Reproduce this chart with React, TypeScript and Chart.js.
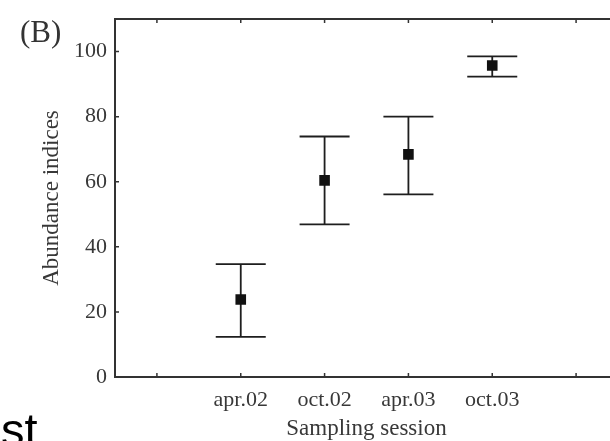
import React, { useEffect, useRef } from "react";
import { Chart, registerables } from "chart.js";

Chart.register(...registerables);

const categories = ["", "apr.02", "oct.02", "apr.03", "oct.03", ""];
const means = [null, 23.8, 60.4, 68.4, 95.7, null];
const lower = [null, 12.3, 46.9, 56.1, 92.3, null];
const upper = [null, 34.7, 73.9, 80.0, 98.5, null];
const yTicks = [0, 20, 40, 60, 80, 100];

const SERIF = "'Liberation Serif', 'DejaVu Serif', serif";

const framePlugin = {
  id: "frameAndBars",
  beforeDatasetsDraw(chart: any) {
    const { ctx, scales } = chart;
    const x = scales.x;
    const y = scales.y;
    ctx.save();
    ctx.strokeStyle = "#1e1e1e";
    ctx.lineWidth = 1.8;
    const half = 25;
    categories.forEach((_, i) => {
      const lo = lower[i];
      const hi = upper[i];
      if (lo == null || hi == null) return;
      const px = x.getPixelForValue(i);
      const yl = y.getPixelForValue(lo);
      const yu = y.getPixelForValue(hi);
      ctx.beginPath();
      ctx.moveTo(px, yl);
      ctx.lineTo(px, yu);
      ctx.moveTo(px - half, yl);
      ctx.lineTo(px + half, yl);
      ctx.moveTo(px - half, yu);
      ctx.lineTo(px + half, yu);
      ctx.stroke();
    });
    ctx.restore();
  },
  afterDraw(chart: any) {
    const { ctx, chartArea, scales } = chart;
    const x = scales.x;
    const y = scales.y;
    ctx.save();
    ctx.strokeStyle = "#333";
    ctx.lineWidth = 2;
    ctx.beginPath();
    ctx.moveTo(chartArea.left - 1, chartArea.top);
    ctx.lineTo(chartArea.right, chartArea.top);
    ctx.stroke();
    ctx.lineWidth = 1.5;
    ctx.beginPath();
    x.ticks.forEach((_: any, i: number) => {
      const px = x.getPixelForTick(i);
      ctx.moveTo(px, chartArea.bottom);
      ctx.lineTo(px, chartArea.bottom - 4);
      ctx.moveTo(px, chartArea.top);
      ctx.lineTo(px, chartArea.top + 4);
    });
    y.ticks.forEach((_: any, i: number) => {
      const py = y.getPixelForTick(i);
      ctx.moveTo(chartArea.left, py);
      ctx.lineTo(chartArea.left + 4, py);
    });
    ctx.stroke();
    ctx.restore();
  },
};

export default function App() {
  const ref = useRef<HTMLCanvasElement | null>(null);
  useEffect(() => {
    if (!ref.current) return;
    const chart = new Chart(ref.current, {
      type: "line",
      data: {
        labels: categories,
        datasets: [
          {
            data: means as any,
            showLine: false,
            pointStyle: "rect",
            pointRadius: 7.5,
            pointBackgroundColor: "#111",
            pointBorderColor: "#111",
            pointBorderWidth: 0,
          },
        ],
      },
      options: {
        responsive: false,
        animation: false,
        layout: { padding: { left: 0, top: 19, right: 22, bottom: 0 } },
        plugins: { legend: { display: false }, tooltip: { enabled: false } },
        scales: {
          x: {
            type: "category",
            offset: true,
            grid: { display: false, drawTicks: false },
            border: { display: true, color: "#333", width: 2 },
            ticks: {
              color: "#383838",
              padding: 10,
              maxRotation: 0,
              autoSkip: false,
              font: { family: SERIF, size: 22 },
            },
            title: {
              display: true,
              text: "Sampling session",
              color: "#383838",
              font: { family: SERIF, size: 23, lineHeight: 1 },
              padding: { top: 0, bottom: 0.5 },
            },
            afterFit: (s: any) => {
              s.height = 64;
              s.paddingLeft = 0;
              s.paddingRight = 0;
            },
          },
          y: {
            type: "linear",
            min: 0,
            max: 110,
            grid: { display: false, drawTicks: false },
            border: { display: true, color: "#333", width: 2 },
            afterBuildTicks: (s: any) => {
              s.ticks = yTicks.map((v) => ({ value: v }));
            },
            ticks: {
              color: "#383838",
              padding: 8,
              font: { family: SERIF, size: 22 },
            },
            title: {
              display: true,
              text: "Abundance indices",
              color: "#383838",
              font: { family: SERIF, size: 23, lineHeight: 1 },
              padding: { top: 40.5, bottom: 0 },
            },
            afterFit: (s: any) => {
              s.width = 115;
              s.paddingTop = 0;
              s.paddingBottom = 0;
            },
          },
        },
      },
      plugins: [framePlugin],
    });
    return () => chart.destroy();
  }, []);

  return (
    <div
      style={{
        position: "fixed",
        left: 0,
        top: 0,
        width: 610,
        height: 441,
        overflow: "hidden",
        background: "#fff",
      }}
    >
      <canvas ref={ref} width={640} height={441} style={{ position: "absolute", left: 0, top: 0 }} />
      <div
        style={{
          position: "absolute",
          left: 20,
          top: 14,
          fontFamily: SERIF,
          fontSize: 31,
          lineHeight: "36px",
          color: "#333",
        }}
      >
        (B)
      </div>
      <div
        style={{
          position: "absolute",
          left: 1,
          top: 406,
          fontFamily: "'Liberation Sans', Arial, sans-serif",
          fontSize: 47,
          lineHeight: "47px",
          color: "#000",
        }}
      >
        st
      </div>
    </div>
  );
}
